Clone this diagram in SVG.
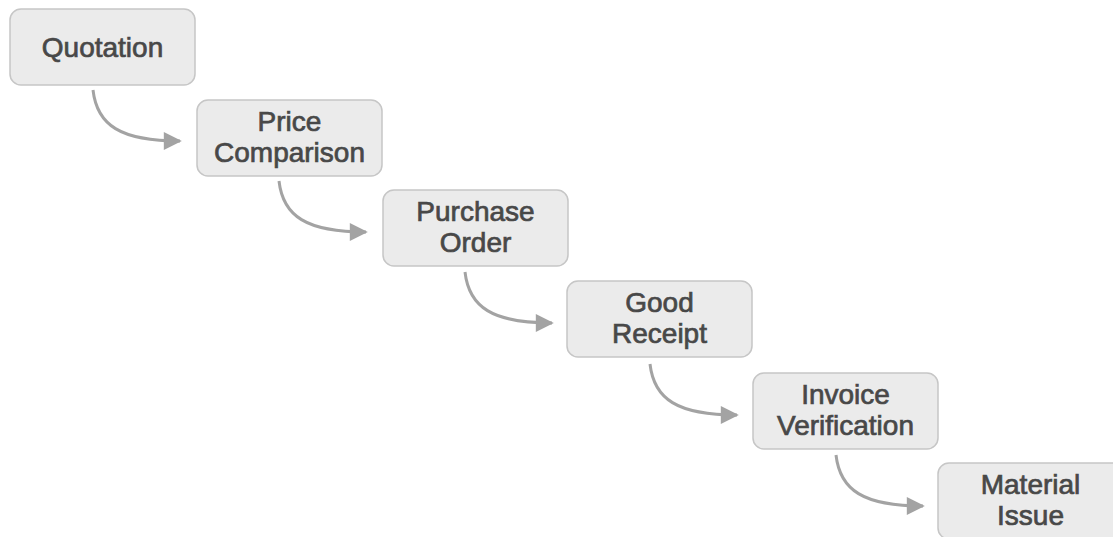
<svg xmlns="http://www.w3.org/2000/svg" width="1113" height="537" viewBox="0 0 1113 537">
  <defs>
    <style>
      .box { fill: #ebebeb; stroke: #c6c6c6; stroke-width: 1.5; }
      .lbl { font-family: "Liberation Sans", Arial, sans-serif; font-size: 28px; fill: #484848; stroke: #484848; stroke-width: 0.7; text-anchor: middle; }
      .conn { fill: none; stroke: #a3a3a3; stroke-width: 3; }
    </style>
    <marker id="arr" viewBox="0 0 10 10" refX="9" refY="5" markerWidth="6.5" markerHeight="6" markerUnits="strokeWidth" orient="auto">
      <path d="M0,0 L10,5 L0,10 Z" fill="#a3a3a3"/>
    </marker>
  </defs>
  <rect width="1113" height="537" fill="#ffffff"/>

  <g id="connectors">
    <path class="conn" marker-end="url(#arr)" d="M93,90 C97,125 120,141 180,141"/>
    <path class="conn" marker-end="url(#arr)" d="M279,181 C283,216 306,232 366,232"/>
    <path class="conn" marker-end="url(#arr)" d="M465,272 C469,307 492,323 552,323"/>
    <path class="conn" marker-end="url(#arr)" d="M650,364 C654,399 677,415 737,415"/>
    <path class="conn" marker-end="url(#arr)" d="M836,455 C840,490 863,506 923,506"/>
  </g>

  <g id="quotation">
    <rect class="box" x="10" y="9" width="185" height="76" rx="11"/>
    <text class="lbl" x="102.5" y="57">Quotation</text>
  </g>
  <g id="price-comparison">
    <rect class="box" x="197" y="100" width="185" height="76" rx="11"/>
    <text class="lbl" x="289.5" y="131">Price</text>
    <text class="lbl" x="289.5" y="162">Comparison</text>
  </g>
  <g id="purchase-order">
    <rect class="box" x="383" y="190" width="185" height="76" rx="11"/>
    <text class="lbl" x="475.5" y="221">Purchase</text>
    <text class="lbl" x="475.5" y="252">Order</text>
  </g>
  <g id="good-receipt">
    <rect class="box" x="567" y="281" width="185" height="76" rx="11"/>
    <text class="lbl" x="659.5" y="312">Good</text>
    <text class="lbl" x="659.5" y="343">Receipt</text>
  </g>
  <g id="invoice-verification">
    <rect class="box" x="753" y="373" width="185" height="76" rx="11"/>
    <text class="lbl" x="845.5" y="404">Invoice</text>
    <text class="lbl" x="845.5" y="435">Verification</text>
  </g>
  <g id="material-issue">
    <rect class="box" x="938" y="463" width="185" height="76" rx="11"/>
    <text class="lbl" x="1030.5" y="494">Material</text>
    <text class="lbl" x="1030.5" y="525">Issue</text>
  </g>
</svg>
